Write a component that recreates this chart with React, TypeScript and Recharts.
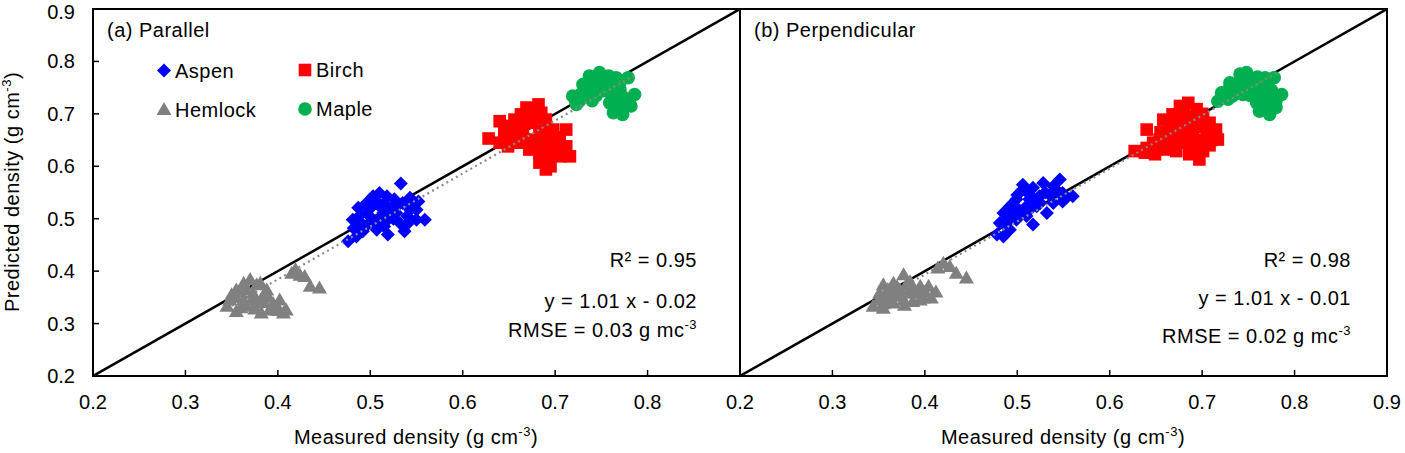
import React from 'react';
import { ScatterChart, Scatter, XAxis, YAxis, ReferenceArea, Legend } from 'recharts';

// axis ticks shared by both panels
const ticks = [0.2, 0.3, 0.4, 0.5, 0.6, 0.7, 0.8, 0.9];
const tickLabels = ['0.2', '0.3', '0.4', '0.5', '0.6', '0.7', '0.8', '0.9'];

// (a) Parallel
const aspenA = [
  [0.533, 0.567], [0.476, 0.457], [0.481, 0.498], [0.487, 0.521], [0.496, 0.530],
  [0.503, 0.543], [0.510, 0.549], [0.518, 0.543], [0.526, 0.537], [0.543, 0.540],
  [0.552, 0.533], [0.559, 0.498], [0.550, 0.498], [0.537, 0.476], [0.519, 0.470],
  [0.507, 0.479], [0.492, 0.476], [0.485, 0.466], [0.499, 0.505], [0.514, 0.511],
  [0.528, 0.511], [0.543, 0.517], [0.490, 0.492], [0.510, 0.524], [0.532, 0.492],
  [0.525, 0.524], [0.505, 0.492], [0.550, 0.517], [0.496, 0.511], [0.520, 0.500],
  [0.540, 0.505], [0.515, 0.485], [0.500, 0.520], [0.505, 0.535], [0.515, 0.530],
  [0.530, 0.525], [0.520, 0.515], [0.535, 0.530], [0.545, 0.528], [0.525, 0.500],
  [0.510, 0.500], [0.488, 0.505], [0.482, 0.482], [0.495, 0.485], [0.540, 0.490],
];
const birchA = [
  [0.628, 0.653], [0.640, 0.686], [0.640, 0.645], [0.651, 0.677], [0.649, 0.638],
  [0.663, 0.699], [0.669, 0.712], [0.682, 0.718], [0.685, 0.702], [0.676, 0.683],
  [0.665, 0.670], [0.658, 0.651], [0.672, 0.651], [0.683, 0.664], [0.698, 0.670],
  [0.712, 0.670], [0.701, 0.645], [0.712, 0.638], [0.716, 0.619], [0.705, 0.619],
  [0.694, 0.613], [0.690, 0.594], [0.683, 0.626], [0.672, 0.632], [0.694, 0.638],
  [0.690, 0.689], [0.705, 0.651], [0.683, 0.607], [0.656, 0.689], [0.676, 0.695],
  [0.660, 0.664], [0.688, 0.650], [0.645, 0.665], [0.655, 0.675], [0.665, 0.685],
  [0.675, 0.705], [0.670, 0.690], [0.680, 0.690], [0.685, 0.675], [0.695, 0.660],
  [0.700, 0.630], [0.690, 0.620], [0.705, 0.632], [0.695, 0.600], [0.678, 0.640],
  [0.688, 0.640], [0.650, 0.652], [0.662, 0.645], [0.665, 0.658], [0.700, 0.655],
];
const mapleA = [
  [0.719, 0.734], [0.723, 0.718], [0.730, 0.756], [0.737, 0.772], [0.748, 0.779],
  [0.755, 0.763], [0.766, 0.769], [0.779, 0.769], [0.770, 0.747], [0.786, 0.737],
  [0.782, 0.715], [0.773, 0.699], [0.763, 0.702], [0.759, 0.721], [0.744, 0.734],
  [0.734, 0.734], [0.741, 0.753], [0.752, 0.744], [0.777, 0.728], [0.768, 0.721],
  [0.726, 0.724], [0.745, 0.765], [0.760, 0.740], [0.735, 0.745], [0.750, 0.755],
  [0.762, 0.755], [0.770, 0.760], [0.772, 0.735], [0.765, 0.730], [0.775, 0.715],
  [0.765, 0.712], [0.728, 0.738], [0.740, 0.725], [0.722, 0.725], [0.758, 0.772],
];
const hemlockA = [
  [0.419, 0.403], [0.429, 0.390], [0.435, 0.371], [0.445, 0.368], [0.415, 0.396],
  [0.370, 0.384], [0.363, 0.377], [0.381, 0.377], [0.355, 0.364], [0.348, 0.345],
  [0.345, 0.333], [0.355, 0.323], [0.366, 0.333], [0.377, 0.339], [0.384, 0.352],
  [0.391, 0.326], [0.402, 0.345], [0.406, 0.320], [0.409, 0.326], [0.399, 0.333],
  [0.373, 0.358], [0.363, 0.345], [0.382, 0.320], [0.388, 0.364], [0.377, 0.374],
  [0.359, 0.361], [0.355, 0.350], [0.365, 0.365], [0.372, 0.345], [0.385, 0.340],
  [0.395, 0.338], [0.360, 0.330], [0.350, 0.355], [0.390, 0.350], [0.375, 0.328],
  [0.400, 0.325], [0.424, 0.392],
];
const fitA = [[0.35, 0.334], [0.785, 0.773]];
const statsA = ['R² = 0.95', 'y = 1.01 x - 0.02', 'RMSE = 0.03 g mc'];

// (b) Perpendicular
const aspenB = [
  [0.478, 0.470], [0.485, 0.466], [0.481, 0.492], [0.485, 0.511], [0.492, 0.524],
  [0.499, 0.537], [0.506, 0.556], [0.506, 0.565], [0.517, 0.559], [0.528, 0.568],
  [0.546, 0.575], [0.539, 0.562], [0.549, 0.549], [0.560, 0.543], [0.549, 0.533],
  [0.539, 0.530], [0.532, 0.511], [0.517, 0.489], [0.510, 0.505], [0.499, 0.498],
  [0.492, 0.479], [0.521, 0.524], [0.513, 0.537], [0.524, 0.543], [0.495, 0.511],
  [0.510, 0.524], [0.530, 0.550], [0.500, 0.520], [0.505, 0.510], [0.515, 0.520],
  [0.520, 0.535], [0.525, 0.530], [0.535, 0.545], [0.545, 0.550], [0.490, 0.495],
  [0.488, 0.485], [0.495, 0.525], [0.553, 0.540], [0.500, 0.545], [0.512, 0.548],
];
const birchB = [
  [0.627, 0.629], [0.638, 0.626], [0.640, 0.670], [0.649, 0.623], [0.654, 0.651],
  [0.658, 0.689], [0.668, 0.699], [0.676, 0.715], [0.685, 0.721], [0.694, 0.709],
  [0.701, 0.693], [0.708, 0.683], [0.715, 0.670], [0.717, 0.651], [0.705, 0.645],
  [0.701, 0.629], [0.697, 0.613], [0.686, 0.623], [0.672, 0.629], [0.661, 0.632],
  [0.672, 0.664], [0.686, 0.664], [0.683, 0.686], [0.665, 0.670], [0.694, 0.677],
  [0.679, 0.645], [0.647, 0.645], [0.660, 0.655], [0.690, 0.695], [0.650, 0.640],
  [0.660, 0.645], [0.670, 0.650], [0.680, 0.660], [0.690, 0.665], [0.700, 0.675],
  [0.705, 0.660], [0.710, 0.650], [0.695, 0.650], [0.690, 0.640], [0.675, 0.680],
  [0.665, 0.685], [0.680, 0.700], [0.690, 0.690], [0.700, 0.700], [0.640, 0.635],
  [0.655, 0.665], [0.690, 0.625], [0.708, 0.640],
];
const mapleB = [
  [0.717, 0.724], [0.721, 0.740], [0.730, 0.759], [0.741, 0.776], [0.748, 0.779],
  [0.759, 0.759], [0.768, 0.769], [0.778, 0.769], [0.786, 0.737], [0.780, 0.712],
  [0.773, 0.699], [0.762, 0.705], [0.759, 0.721], [0.744, 0.737], [0.733, 0.734],
  [0.737, 0.753], [0.751, 0.750], [0.771, 0.734], [0.769, 0.753], [0.776, 0.724],
  [0.755, 0.768], [0.760, 0.738], [0.728, 0.745], [0.740, 0.760], [0.750, 0.765],
  [0.760, 0.770], [0.765, 0.745], [0.775, 0.745], [0.780, 0.725], [0.770, 0.715],
  [0.765, 0.725], [0.740, 0.745], [0.752, 0.735], [0.728, 0.728],
];
const hemlockB = [
  [0.420, 0.415], [0.427, 0.409], [0.414, 0.406], [0.434, 0.396], [0.445, 0.387],
  [0.377, 0.393], [0.366, 0.377], [0.384, 0.380], [0.355, 0.374], [0.351, 0.358],
  [0.344, 0.333], [0.355, 0.329], [0.366, 0.339], [0.377, 0.345], [0.387, 0.358],
  [0.395, 0.371], [0.404, 0.371], [0.407, 0.349], [0.398, 0.349], [0.359, 0.352],
  [0.373, 0.364], [0.387, 0.342], [0.366, 0.358], [0.380, 0.374], [0.360, 0.365],
  [0.370, 0.370], [0.372, 0.352], [0.382, 0.360], [0.392, 0.360], [0.350, 0.345],
  [0.362, 0.345], [0.378, 0.335], [0.395, 0.345], [0.385, 0.370], [0.400, 0.360],
  [0.355, 0.338], [0.412, 0.360],
];
const fitB = [[0.345, 0.338], [0.78, 0.778]];
const statsB = ['R² = 0.98', 'y = 1.01 x - 0.01', 'RMSE = 0.02 g mc'];

const oneToOne = [[0.2, 0.2], [0.9, 0.9]];

const FONT = '"Liberation Sans", Arial, sans-serif';
const colors = { aspen: '#0000FF', birch: '#FF0000', hemlock: '#808080', maple: '#00B050' };

const toPts = (arr: number[][]) => arr.map(([x, y]) => ({ x, y }));

const Diamond = (p: any) => (
  <path d={`M${p.cx},${p.cy - 7}L${p.cx + 7},${p.cy}L${p.cx},${p.cy + 7}L${p.cx - 7},${p.cy}Z`} fill={p.fill} />
);
const Square = (p: any) => <rect x={p.cx - 6.3} y={p.cy - 6.3} width={12.6} height={12.6} fill={p.fill} />;
const Triangle = (p: any) => (
  <path d={`M${p.cx},${p.cy - 7.5}L${p.cx + 7.5},${p.cy + 5.5}L${p.cx - 7.5},${p.cy + 5.5}Z`} fill={p.fill} />
);
const Dot = (p: any) => <circle cx={p.cx} cy={p.cy} r={6.8} fill={p.fill} />;
const NoMark = () => <g />;

const xTick = (showLast: boolean) => (p: any) => {
  const i = ticks.indexOf(p.payload.value);
  const show = showLast || i < ticks.length - 1;
  return (
    <g>
      <line x1={p.x} y1={p.y} x2={p.x} y2={p.y - 6} stroke="#000" strokeWidth={1.5} />
      {show && (
        <text x={p.x} y={p.y + 33} textAnchor="middle" fontSize={20} fontFamily={FONT} fill="#000">
          {tickLabels[i]}
        </text>
      )}
    </g>
  );
};

const yTick = (showLabel: boolean) => (p: any) => {
  const i = ticks.indexOf(p.payload.value);
  return (
    <g>
      <line x1={p.x} y1={p.y} x2={p.x + 6} y2={p.y} stroke="#000" strokeWidth={1.5} />
      {showLabel && (
        <text x={p.x - 18} y={Math.max(p.y + 7, 19)} textAnchor="end" fontSize={20} fontFamily={FONT} fill="#000">
          {tickLabels[i]}
        </text>
      )}
    </g>
  );
};

const legendItems = [
  { name: 'Aspen', color: colors.aspen, Mark: Diamond, x: 14, y: 20.5 },
  { name: 'Birch', color: colors.birch, Mark: Square, x: 155, y: 20 },
  { name: 'Hemlock', color: colors.hemlock, Mark: Triangle, x: 14, y: 59.5 },
  { name: 'Maple', color: colors.maple, Mark: Dot, x: 155, y: 59 },
];

const LegendBox = () => (
  <svg width={280} height={80}>
    {legendItems.map((it) => (
      <g key={it.name}>
        <it.Mark cx={it.x} cy={it.y} fill={it.color} />
        <text x={it.x + 11} y={it.y + 7} fontSize={20} fontFamily={FONT} fill="#000" letterSpacing={0.5}>
          {it.name}
        </text>
      </g>
    ))}
  </svg>
);

type PanelProps = {
  left: number;
  width: number;
  margin: { top: number; right: number; bottom: number; left: number };
  yWidth: number;
  first: boolean;
  aspen: number[][];
  birch: number[][];
  maple: number[][];
  hemlock: number[][];
  fit: number[][];
};

const Panel = (props: PanelProps) => (
  <div style={{ position: 'absolute', left: props.left, top: 0 }}>
    <ScatterChart width={props.width} height={453} margin={props.margin}>
      <XAxis
        type="number"
        dataKey="x"
        domain={[0.2, 0.9]}
        ticks={ticks}
        interval={0}
        height={77}
        tickSize={0}
        tickMargin={0}
        axisLine={false}
        tickLine={false}
        allowDataOverflow
        tick={xTick(!props.first)}
      />
      <YAxis
        type="number"
        dataKey="y"
        domain={[0.2, 0.9]}
        ticks={ticks}
        interval={0}
        width={props.yWidth}
        tickSize={0}
        tickMargin={0}
        axisLine={false}
        tickLine={false}
        allowDataOverflow
        tick={yTick(props.first)}
      />
      <ReferenceArea x1={0.2} x2={0.9} y1={0.2} y2={0.9} fill="none" fillOpacity={0} stroke="#000" strokeWidth={2} />
      <Scatter data={toPts(oneToOne)} shape={NoMark} line={{ stroke: '#000', strokeWidth: 2.5 }} legendType="none" isAnimationActive={false} />
      <Scatter name="Aspen" data={toPts(props.aspen)} fill={colors.aspen} shape={Diamond} isAnimationActive={false} />
      <Scatter name="Birch" data={toPts(props.birch)} fill={colors.birch} shape={Square} isAnimationActive={false} />
      <Scatter name="Maple" data={toPts(props.maple)} fill={colors.maple} shape={Dot} isAnimationActive={false} />
      <Scatter
        data={toPts(props.fit)}
        shape={NoMark}
        line={{ stroke: '#8a8a8a', strokeWidth: 2.2, strokeDasharray: '2 3.5' }}
        legendType="none"
        isAnimationActive={false}
      />
      <Scatter name="Hemlock" data={toPts(props.hemlock)} fill={colors.hemlock} shape={Triangle} isAnimationActive={false} />
      {props.first && (
        <Legend
          layout="horizontal"
          verticalAlign="middle"
          align="center"
          content={LegendBox}
          wrapperStyle={{ left: 150, top: 50, width: 280, height: 80 }}
        />
      )}
    </ScatterChart>
  </div>
);

const Stats = ({ x, ys, lines }: { x: number; ys: number[]; lines: string[] }) => (
  <g fontSize={20} fontFamily={FONT} fill="#000" textAnchor="end" letterSpacing={0.5}>
    <text x={x} y={ys[0]}>{lines[0]}</text>
    <text x={x} y={ys[1]}>{lines[1]}</text>
    <text x={x} y={ys[2]}>
      {lines[2]}
      <tspan fontSize={13} dy={-8}>-3</tspan>
    </text>
  </g>
);

const Unit = () => (
  <>
    <tspan>(g cm</tspan>
    <tspan fontSize={13} dy={-8}>-3</tspan>
    <tspan dy={8}>)</tspan>
  </>
);

export default function App() {
  return (
    <div style={{ position: 'absolute', left: 0, top: 0, width: 1405, height: 453, background: '#fff' }}>
      <Panel
        left={0}
        width={760}
        margin={{ top: 9, right: 20, bottom: 0, left: 0 }}
        yWidth={93}
        first
        aspen={aspenA}
        birch={birchA}
        maple={mapleA}
        hemlock={hemlockA}
        fit={fitA}
      />
      <Panel
        left={720}
        width={685}
        margin={{ top: 9, right: 18, bottom: 0, left: 20 }}
        yWidth={0}
        first={false}
        aspen={aspenB}
        birch={birchB}
        maple={mapleB}
        hemlock={hemlockB}
        fit={fitB}
      />
      <svg width={1405} height={453} style={{ position: 'absolute', left: 0, top: 0, pointerEvents: 'none' }}>
        <g fontSize={20} fontFamily={FONT} fill="#000" letterSpacing={0.5}>
          <text x={107} y={37}>(a) Parallel</text>
          <text x={754} y={37}>(b) Perpendicular</text>
          <text x={416} y={444} textAnchor="middle">
            Measured density <Unit />
          </text>
          <text x={1063} y={444} textAnchor="middle">
            Measured density <Unit />
          </text>
          <text transform="translate(19,192) rotate(-90)" textAnchor="middle">
            Predicted density <Unit />
          </text>
        </g>
        <Stats x={697} ys={[267, 308, 337]} lines={statsA} />
        <Stats x={1351} ys={[267, 305, 343]} lines={statsB} />
      </svg>
    </div>
  );
}
